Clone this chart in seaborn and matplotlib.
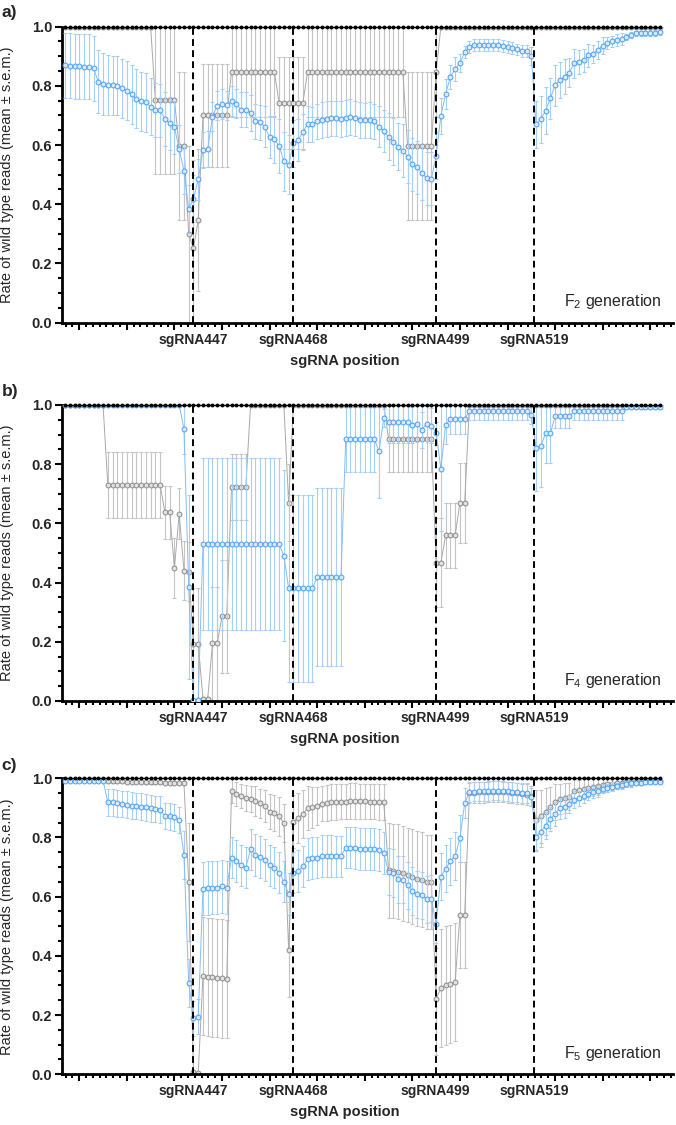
import numpy as np
import matplotlib
matplotlib.use("Agg")
import matplotlib.pyplot as plt
from matplotlib.ticker import AutoMinorLocator, MultipleLocator
import seaborn as sns

sns.set_style("ticks")
plt.rcParams['font.family'] = ['Liberation Sans', 'DejaVu Sans']
plt.rcParams['mathtext.fontset'] = 'custom'
plt.rcParams['mathtext.rm'] = 'Liberation Sans'
plt.rcParams['mathtext.it'] = 'Liberation Sans:italic'
plt.rcParams['mathtext.bf'] = 'Liberation Sans:bold'

# x = read position index along the amplicon (one point per base)
positions = np.arange(126)
sg_names = ['sgRNA447', 'sgRNA468', 'sgRNA499', 'sgRNA519']
sg_pos = [26.9, 47.9, 77.9, 98.6]
gen_labels = ['F$_2$ generation', 'F$_4$ generation', 'F$_5$ generation']
panel_tags = ['a)', 'b)', 'c)']

ctrl_rate = [1.0, 1.0, 1.0, 1.0, 1.0, 1.0, 1.0, 1.0, 1.0, 1.0, 1.0, 1.0, 1.0, 1.0, 1.0, 1.0, 1.0, 1.0, 1.0, 1.0, 1.0,
             1.0, 1.0, 1.0, 1.0, 1.0, 1.0, 1.0, 1.0, 1.0, 1.0, 1.0, 1.0, 1.0, 1.0, 1.0, 1.0, 1.0, 1.0, 1.0, 1.0, 1.0,
             1.0, 1.0, 1.0, 1.0, 1.0, 1.0, 1.0, 1.0, 1.0, 1.0, 1.0, 1.0, 1.0, 1.0, 1.0, 1.0, 1.0, 1.0, 1.0, 1.0, 1.0,
             1.0, 1.0, 1.0, 1.0, 1.0, 1.0, 1.0, 1.0, 1.0, 1.0, 1.0, 1.0, 1.0, 1.0, 1.0, 1.0, 1.0, 1.0, 1.0, 1.0, 1.0,
             1.0, 1.0, 1.0, 1.0, 1.0, 1.0, 1.0, 1.0, 1.0, 1.0, 1.0, 1.0, 1.0, 1.0, 1.0, 1.0, 1.0, 1.0, 1.0, 1.0, 1.0,
             1.0, 1.0, 1.0, 1.0, 1.0, 1.0, 1.0, 1.0, 1.0, 1.0, 1.0, 1.0, 1.0, 1.0, 1.0, 1.0, 1.0, 1.0, 1.0, 1.0, 1.0]

# ---- F2 ----
f2_grey = [1.0, 1.0, 1.0, 1.0, 1.0, 1.0, 1.0, 1.0, 1.0, 1.0,
           1.0, 1.0, 1.0, 1.0, 1.0, 1.0, 1.0, 1.0, 1.0, .752,
           .752, .752, .752, .752, .597, .597, .298, .251, .347, .700,
           .700, .700, .700, .700, .700, .848, .848, .848, .848, .848,
           .848, .848, .848, .848, .848, .743, .743, .743, .743, .743,
           .743, .848, .848, .848, .848, .848, .848, .848, .848, .848,
           .848, .848, .848, .848, .848, .848, .848, .848, .848, .848,
           .848, .848, .597, .597, .597, .597, .597, .597, .848, 1.0,
           1.0, 1.0, 1.0, 1.0, 1.0, 1.0, 1.0, 1.0, 1.0, 1.0,
           1.0, 1.0, 1.0, 1.0, 1.0, 1.0, 1.0, 1.0, 1.0, 1.0,
           1.0, 1.0, 1.0, 1.0, 1.0, 1.0, 1.0, 1.0, 1.0, 1.0,
           1.0, 1.0, 1.0, 1.0, 1.0, 1.0, 1.0, 1.0, 1.0, 1.0,
           1.0, 1.0, 1.0, 1.0, 1.0, 1.0]
f2_grey_sem = [0, 0, 0, 0, 0, 0, 0, 0, 0, 0,
               0, 0, 0, 0, 0, 0, 0, 0, 0, .25,
               .25, .25, .25, .25, .25, .25, .30, .30, .24, .175,
               .175, .175, .175, .175, .175, .152, .152, .152, .152, .152,
               .152, .152, .152, .152, .152, .155, .155, .155, .155, .155,
               .155, .152, .152, .152, .152, .152, .152, .152, .152, .152,
               .152, .152, .152, .152, .152, .152, .152, .152, .152, .152,
               .152, .152, .25, .25, .25, .25, .25, .25, .152, 0,
               0, 0, 0, 0, 0, 0, 0, 0, 0, 0,
               0, 0, 0, 0, 0, 0, 0, 0, 0, 0,
               0, 0, 0, 0, 0, 0, 0, 0, 0, 0,
               0, 0, 0, 0, 0, 0, 0, 0, 0, 0,
               0, 0, 0, 0, 0, 0]
f2_blue = [.870, .868, .866, .866, .865, .864, .859, .814, .806, .803,
           .802, .800, .792, .784, .772, .756, .748, .744, .730, .718,
           .717, .688, .673, .660, .587, .513, .384, .419, .484, .583,
           .587, .696, .733, .738, .734, .749, .740, .720, .720, .709,
           .680, .677, .662, .627, .619, .597, .545, .533, .606, .617,
           .644, .671, .670, .680, .685, .688, .690, .690, .688, .691,
           .694, .690, .685, .683, .684, .680, .662, .648, .628, .611,
           .595, .581, .561, .535, .525, .505, .488, .486, .564, .698,
           .773, .831, .856, .878, .913, .932, .937, .938, .938, .939,
           .938, .937, .936, .931, .927, .923, .919, .917, .902, .670,
           .687, .716, .758, .802, .820, .831, .845, .876, .880, .886,
           .903, .908, .921, .936, .946, .950, .955, .958, .965, .973,
           .977, .977, .977, .978, .980, .983]
f2_blue_sem = [.11, .11, .11, .11, .11, .11, .11, .107, .105, .10,
               .10, .10, .10, .10, .10, .10, .10, .10, .095, .09,
               .09, .09, .09, .09, .08, .08, .08, .08, .07, .06,
               .06, .05, .05, .05, .05, .05, .05, .06, .06, .06,
               .06, .06, .07, .07, .08, .09, .10, .10, .08, .07,
               .06, .06, .06, .06, .06, .06, .06, .06, .06, .06,
               .06, .06, .06, .06, .06, .06, .07, .07, .08, .08,
               .08, .09, .09, .09, .09, .09, .09, .09, .08, .06,
               .05, .04, .04, .03, .02, .02, .02, .02, .02, .02,
               .02, .02, .02, .02, .02, .02, .02, .02, .03, .08,
               .08, .08, .07, .07, .06, .06, .05, .05, .04, .04,
               .04, .03, .03, .03, .02, .02, .02, .02, .01, .01,
               .01, .01, .01, .01, .01, .01]

# ---- F4 ----
f4_grey = [1.0, 1.0, 1.0, 1.0, 1.0, 1.0, 1.0, 1.0, 1.0, .729,
           .729, .729, .729, .729, .729, .729, .729, .729, .729, .729,
           .729, .638, .638, .449, .633, .440, .437, .192, .192, .008,
           .008, .195, .195, .286, .286, .723, .723, .723, .723, 1.0,
           1.0, 1.0, 1.0, 1.0, 1.0, 1.0, 1.0, .669, 1.0, 1.0,
           1.0, 1.0, 1.0, 1.0, 1.0, 1.0, 1.0, 1.0, 1.0, 1.0,
           1.0, 1.0, 1.0, 1.0, 1.0, 1.0, 1.0, 1.0, .885, .885,
           .885, .885, .885, .885, .885, .885, .885, .885, .467, .467,
           .560, .560, .560, .670, .670, 1.0, 1.0, 1.0, 1.0, 1.0,
           1.0, 1.0, 1.0, 1.0, 1.0, 1.0, 1.0, 1.0, 1.0, 1.0,
           1.0, 1.0, 1.0, 1.0, 1.0, 1.0, 1.0, 1.0, 1.0, 1.0,
           1.0, 1.0, 1.0, 1.0, 1.0, 1.0, 1.0, 1.0, 1.0, 1.0,
           1.0, 1.0, 1.0, 1.0, 1.0, 1.0]
f4_grey_sem = [0, 0, 0, 0, 0, 0, 0, 0, 0, .112,
               .112, .112, .112, .112, .112, .112, .112, .112, .112, .112,
               .112, .09, .09, .10, .086, .10, .10, .19, .19, 0,
               0, .19, .19, .19, .19, .11, .11, .11, .11, 0,
               0, 0, 0, 0, 0, 0, 0, .13, 0, 0,
               0, 0, 0, 0, 0, 0, 0, 0, 0, 0,
               0, 0, 0, 0, 0, 0, 0, 0, .11, .11,
               .11, .11, .11, .11, .11, .11, .11, .11, .15, .15,
               .11, .11, .11, .135, .135, 0, 0, 0, 0, 0,
               0, 0, 0, 0, 0, 0, 0, 0, 0, 0,
               0, 0, 0, 0, 0, 0, 0, 0, 0, 0,
               0, 0, 0, 0, 0, 0, 0, 0, 0, 0,
               0, 0, 0, 0, 0, 0]
f4_blue = [1.0, 1.0, 1.0, 1.0, 1.0, 1.0, 1.0, 1.0, 1.0, 1.0,
           1.0, 1.0, 1.0, 1.0, 1.0, 1.0, 1.0, 1.0, 1.0, 1.0,
           1.0, 1.0, 1.0, 1.0, 1.0, .919, .385, .005, .005, .530,
           .530, .530, .530, .530, .530, .530, .530, .530, .530, .530,
           .530, .530, .530, .530, .530, .530, .491, .381, .381, .381,
           .381, .381, .381, .418, .418, .418, .418, .418, .418, .885,
           .885, .885, .885, .885, .885, .885, .843, .956, .941, .941,
           .941, .941, .941, .933, .935, .916, .937, .930, .904, .785,
           .932, .953, .953, .953, .953, .979, .979, .979, .979, .979,
           .979, .979, .979, .979, .979, .979, .979, .979, .966, .856,
           .862, .904, .904, .962, .962, .962, .962, .979, .979, .979,
           .979, .979, .979, .979, .979, .979, .979, .979, .993, .993,
           .993, .993, .993, .993, .993, .993]
f4_blue_sem = [0, 0, 0, 0, 0, 0, 0, 0, 0, 0,
               0, 0, 0, 0, 0, 0, 0, 0, 0, 0,
               0, 0, 0, 0, 0, .083, .31, 0, 0, .29,
               .29, .29, .29, .29, .29, .29, .29, .29, .29, .29,
               .29, .29, .29, .29, .29, .29, .29, .316, .316, .316,
               .316, .316, .316, .30, .30, .30, .30, .30, .30, .11,
               .11, .11, .11, .11, .11, .11, .156, .03, .07, .07,
               .07, .07, .07, .06, .06, .06, .06, .06, .04, .21,
               .065, .05, .05, .05, .05, .03, .03, .03, .03, .03,
               .03, .03, .03, .03, .03, .03, .03, .03, .03, .145,
               .14, .10, .10, .04, .04, .04, .04, .03, .03, .03,
               .03, .03, .03, .03, .03, .03, .03, .03, .005, .005,
               .005, .005, .005, .005, .005, .005]

# ---- F5 ----
f5_grey = [.995, .995, .995, .995, .995, .995, .995, .995, .995, .990,
           .990, .990, .990, .989, .989, .988, .988, .987, .987, .986,
           .986, .985, .985, .984, .984, .984, .650, .009, .003, .333,
           .329, .327, .326, .324, .322, .956, .948, .939, .933, .930,
           .924, .915, .907, .887, .882, .871, .849, .421, .853, .866,
           .879, .899, .902, .907, .914, .916, .919, .919, .921, .921,
           .923, .923, .922, .922, .921, .921, .920, .919, .689, .687,
           .684, .679, .673, .668, .661, .657, .650, .650, .255, .292,
           .300, .304, .311, .538, .538, .950, .951, .952, .953, .954,
           .955, .955, .954, .953, .951, .949, .947, .945, .940, .859,
           .871, .887, .902, .919, .930, .934, .938, .956, .960, .964,
           .968, .971, .975, .977, .980, .980, .983, .983, .986, .987,
           .989, .990, .990, .991, .991, .991]
f5_grey_sem = [.005, .005, .005, .005, .005, .005, .005, .005, .005, .005,
               .005, .005, .005, .005, .005, .005, .005, .005, .005, .005,
               .005, .005, .005, .005, .005, .005, .20, .005, .005, .20,
               .20, .20, .20, .20, .20, .04, .04, .04, .045, .045,
               .05, .05, .055, .06, .06, .065, .065, .16, .09, .085,
               .08, .075, .07, .065, .06, .06, .06, .06, .06, .06,
               .06, .06, .06, .06, .06, .06, .06, .06, .16, .16,
               .16, .16, .16, .16, .16, .16, .16, .16, .19, .20,
               .20, .20, .20, .18, .18, .035, .035, .035, .035, .035,
               .035, .035, .035, .035, .035, .035, .035, .035, .035, .10,
               .09, .08, .07, .06, .05, .05, .045, .04, .035, .035,
               .03, .03, .03, .025, .025, .02, .02, .02, .015, .015,
               .01, .01, .01, .008, .008, .008]
f5_blue = [.991, .991, .991, .991, .991, .991, .991, .991, .991, .919,
           .919, .915, .913, .911, .907, .906, .904, .902, .898, .896,
           .894, .873, .871, .868, .859, .741, .308, .189, .195, .627,
           .629, .630, .630, .635, .630, .732, .721, .706, .698, .760,
           .741, .734, .724, .706, .698, .681, .651, .609, .681, .687,
           .702, .727, .730, .732, .738, .738, .738, .736, .736, .766,
           .766, .765, .761, .761, .761, .761, .758, .747, .685, .680,
           .659, .657, .638, .619, .608, .605, .591, .593, .508, .668,
           .695, .719, .738, .797, .916, .953, .955, .956, .956, .957,
           .958, .958, .957, .956, .954, .952, .950, .950, .938, .803,
           .819, .840, .862, .879, .898, .902, .913, .928, .933, .941,
           .947, .953, .958, .964, .967, .972, .975, .977, .981, .983,
           .984, .985, .986, .987, .988, .988]
f5_blue_sem = [.005, .005, .005, .005, .005, .005, .005, .005, .005, .045,
               .045, .045, .045, .045, .045, .045, .045, .045, .045, .045,
               .045, .045, .045, .045, .045, .08, .08, .06, .06, .09,
               .09, .09, .09, .09, .09, .07, .07, .07, .07, .07,
               .07, .07, .07, .07, .07, .07, .07, .07, .07, .07,
               .07, .07, .07, .07, .07, .07, .07, .07, .07, .07,
               .07, .07, .07, .07, .07, .07, .07, .07, .08, .08,
               .08, .08, .08, .08, .08, .08, .08, .08, .08, .08,
               .08, .08, .08, .08, .05, .033, .033, .033, .033, .033,
               .033, .033, .033, .033, .033, .033, .033, .033, .03, .05,
               .05, .045, .04, .04, .035, .035, .03, .03, .025, .025,
               .02, .02, .02, .015, .015, .015, .01, .01, .01, .01,
               .008, .008, .006, .006, .005, .005]

GREY_BAR, GREY_LINE, GREY_EDGE, GREY_FACE = '#c4c4c4', '#a9a9a9', '#8a8a8a', '#e2e2e2'
BLUE_BAR, BLUE_LINE, BLUE_EDGE, BLUE_FACE = '#a5cff7', '#85bdf5', '#4a9ff5', '#d8eafd'


def draw_panel(ax, grey, grey_sem, blue, blue_sem, gen):
    ax.errorbar(positions, grey, yerr=grey_sem, fmt='none', ecolor=GREY_BAR,
                elinewidth=0.8, capsize=1.6, capthick=0.8, zorder=1)
    sns.lineplot(x=positions, y=grey, ax=ax, color=GREY_LINE, lw=0.7, marker='o',
                 markersize=3.5, markerfacecolor=GREY_FACE, markeredgecolor=GREY_EDGE,
                 markeredgewidth=0.7, errorbar=None, zorder=2)
    ax.errorbar(positions, blue, yerr=blue_sem, fmt='none', ecolor=BLUE_BAR,
                elinewidth=0.8, capsize=1.6, capthick=0.8, zorder=3)
    sns.lineplot(x=positions, y=blue, ax=ax, color=BLUE_LINE, lw=0.7, marker='o',
                 markersize=3.5, markerfacecolor=BLUE_FACE, markeredgecolor=BLUE_EDGE,
                 markeredgewidth=0.7, errorbar=None, zorder=4)
    ctrl = ax.plot(positions, ctrl_rate, color='black', lw=1.0, marker='o',
                   markersize=2.8, markeredgewidth=0, zorder=7)
    for c in ctrl:
        c.set_clip_on(False)
    for x in sg_pos:
        ax.axvline(x, color='black', lw=1.4, ls=(0, (3.5, 2.2)), zorder=6)

    ax.set_xlim(-0.63, 127.8)
    ax.set_ylim(0, 1.0)
    ax.set_xticks(np.arange(3, 126, 10))
    ax.set_xticklabels([])
    ax.xaxis.set_minor_locator(AutoMinorLocator(7))
    ax.set_yticks([0, 0.2, 0.4, 0.6, 0.8, 1.0])
    ax.yaxis.set_minor_locator(MultipleLocator(0.05))
    ax.set_yticklabels(['0.0', '0.2', '0.4', '0.6', '0.8', '1.0'], fontweight='bold', fontsize=10.5)
    ax.tick_params(axis='both', which='major', direction='out', length=5, width=1.5, color='black')
    ax.tick_params(axis='both', which='minor', direction='out', length=3, width=1.5, color='black')
    ax.tick_params(axis='y', pad=2)
    for side in ['top', 'right']:
        ax.spines[side].set_visible(False)
    for side in ['left', 'bottom']:
        ax.spines[side].set_linewidth(2)
        ax.spines[side].set_color('black')

    for name, x in zip(sg_names, sg_pos):
        ax.text(x, -0.058, name, transform=ax.get_xaxis_transform(), ha='center', va='center',
                fontsize=10, fontweight='bold')
    ax.text(0.462, -0.128, 'sgRNA position', transform=ax.transAxes, ha='center', va='center',
            fontsize=10.5, fontweight='bold')
    ax.text(0.982, 0.07, gen, transform=ax.transAxes, ha='right', va='center', fontsize=11.5)
    ax.set_ylabel('Rate of wild type reads (mean \u00b1 s.e.m.)', fontsize=10.5)
    ax.yaxis.set_label_coords(-0.079, 0.5)
    ax.set_xlabel('')


fig = plt.figure(figsize=(6.76, 11.25), dpi=100)
bottoms = [0.7132, 0.3769, 0.0451]
tag_y = [0.9887, 0.6524, 0.3195]
series = [(f2_grey, f2_grey_sem, f2_blue, f2_blue_sem),
          (f4_grey, f4_grey_sem, f4_blue, f4_blue_sem),
          (f5_grey, f5_grey_sem, f5_blue, f5_blue_sem)]

for k in range(3):
    ax = fig.add_axes([0.0917, bottoms[k], 0.9040, 0.2631])
    g, gs, b, bs = series[k]
    draw_panel(ax, g, gs, b, bs, gen_labels[k])
    fig.text(0.002, tag_y[k], panel_tags[k], fontsize=12.5, fontweight='bold', va='center', ha='left')

fig.savefig('out.png', dpi=100)
